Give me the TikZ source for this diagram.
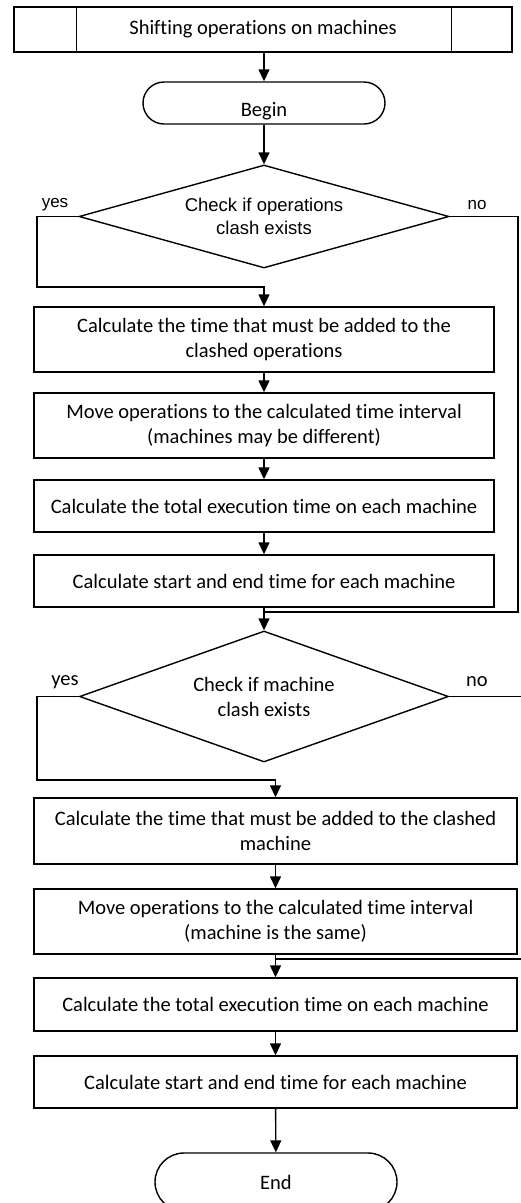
\documentclass[tikz,border=0pt]{standalone}
\usepackage{fontspec}
\setmainfont[Ligatures=NoCommon]{Carlito}
\newfontfamily\arialfont{Liberation Sans}
\usepackage{tikz}
\usetikzlibrary{arrows.meta,shapes.geometric}

\begin{document}
\begin{tikzpicture}[x=1pt,y=-1pt,
  line width=1.4pt,
  arr/.style={-{Triangle[length=12pt,width=11pt]}},
  procbox/.style={draw,rectangle,inner sep=0pt,align=center,
    minimum width=460pt,font=\fontsize{20.5}{25}\selectfont},
  widebox/.style={procbox,minimum width=483pt},
  termbox/.style={draw,rectangle,rounded corners=21pt,inner sep=0pt,
    minimum width=242pt,font=\fontsize{20.5}{25}\selectfont},
  decide/.style={draw,diamond,inner sep=0pt,align=center},
  lbl/.style={inner sep=0pt,font=\fontsize{20.5}{25}\selectfont}]
\useasboundingbox (0,0) rectangle (521,1203);
\clip (0,0) rectangle (521,1203);

% header
\node[procbox,minimum width=498pt,minimum height=45pt] (title) at (263,29.5) {Shifting operations on machines};
\draw ([xshift=63pt]title.north west) -- ([xshift=63pt]title.south west);
\draw ([xshift=-61pt]title.north east) -- ([xshift=-61pt]title.south east);

% start, its text sits low and is cut by the frame
\node[termbox,minimum height=42pt] (begin) at (264,103) {};
\begin{scope}
  \clip ([yshift=-2pt]begin.south west) rectangle (begin.north east);
  \node[lbl] (begintxt) at (264,111) {Begin};
\end{scope}

% first check
\node[decide,minimum width=370pt,minimum height=103pt,shape aspect=3.6,
  font=\arialfont\fontsize{18.5}{23}\selectfont] (d1) at (264,216.5) {Check if operations\\clash exists};
\node[lbl,font=\arialfont\fontsize{17}{20}\selectfont] (yes1) at (55,205) {yes};
\node[lbl,font=\arialfont\fontsize{17}{20}\selectfont] (no1) at (477,205) {no};

\node[procbox,minimum height=65pt] (b1) at (264,339.5) {Calculate the time that must be added to the\\clashed operations};
\node[procbox,minimum height=65pt] (b2) at (264,425.5) {Move operations to the calculated time interval\\(machines may be different)};
\node[procbox,minimum height=52pt] (b3) at (264,506) {Calculate the total execution time on each machine};
\node[procbox,minimum height=52pt] (b4) at (264,581) {Calculate start and end time for each machine};

% second check
\node[decide,minimum width=369pt,minimum height=131pt,shape aspect=2.8,
  font=\fontsize{20.5}{25}\selectfont] (d2) at (264,696.5) {Check if machine\\clash exists};
\node[lbl] (yes2) at (65,682) {yes};
\node[lbl] (no2) at (477,682) {no};

\node[widebox,minimum height=66pt] (b5) at (275.5,831) {Calculate the time that must be added to the clashed\\machine};
\node[widebox,minimum height=65pt] (b6) at (275.5,921.5) {Move operations to the calculated time interval\\(machine is the same)};
\node[widebox,minimum height=53pt] (b7) at (275.5,1004.5) {Calculate the total execution time on each machine};
\node[widebox,minimum height=52pt] (b8) at (275.5,1082) {Calculate start and end time for each machine};

\node[termbox,minimum height=58pt,rounded corners=29pt] (end) at (276,1182) {End};

% bends of the branches
\coordinate (yesL1) at (37,287);
\coordinate (noR1) at (518,612);
\coordinate (yesL2) at (37,780);
\coordinate (noR2) at (524,959);

% connectors
\draw[arr] (begin.north |- title.south) -- (begin.north);
\draw[arr] (begin) -- (d1);
\draw[arr] (d1.west) -| (yesL1) -| (b1.north);
\draw (d1.east) -| (noR1) -- (noR1 -| b4.south);
\draw[arr] (b1) -- (b2);
\draw[arr] (b2) -- (b3);
\draw[arr] (b3) -- (b4);
\draw[arr] (b4) -- (d2);
\draw[arr] (d2.west) -| (yesL2) -| (b5.north);
\draw (d2.east) -| (noR2) -- (noR2 -| b6.south);
\draw[arr] (b5) -- (b6);
\draw[arr] (b6) -- (b7);
\draw[arr] (b7) -- (b8);
\draw[arr] (b8) -- (end);
\end{tikzpicture}
\end{document}
